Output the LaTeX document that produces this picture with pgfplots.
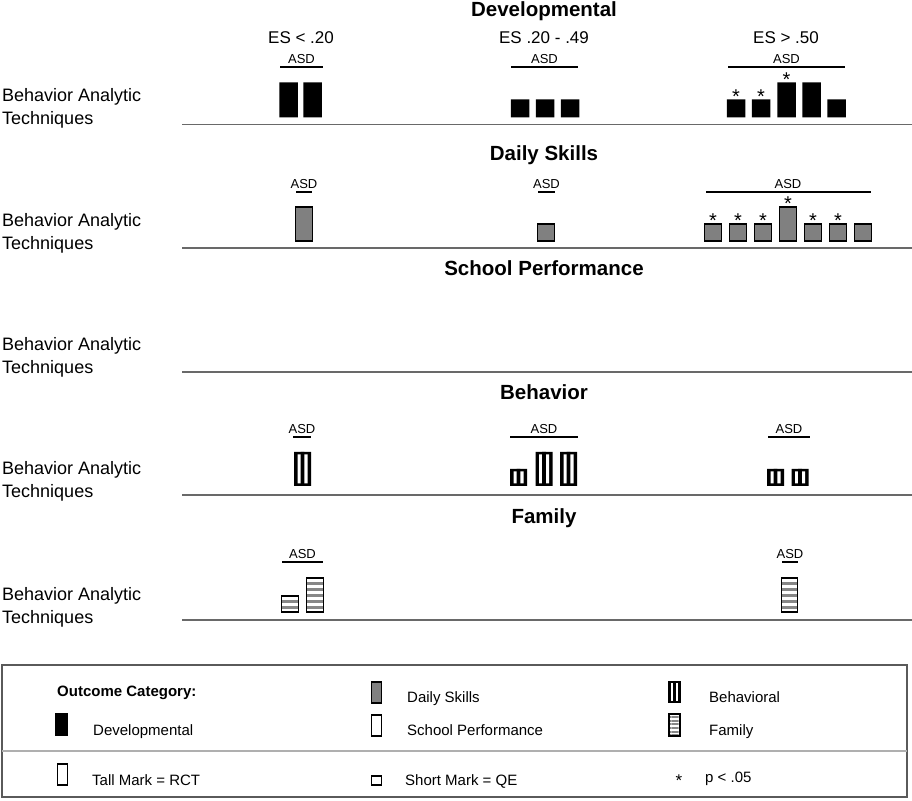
\documentclass[border=0pt]{standalone}
\usepackage{fontspec}
\setmainfont{Liberation Sans}
\usepackage{pgfplots}
\pgfplotsset{compat=1.18}
\usepackage{pgfplotstable}
\usetikzlibrary{patterns.meta}

\definecolor{dsgray}{RGB}{128,128,128}
\definecolor{famgray}{RGB}{135,135,135}
\definecolor{rulegray}{RGB}{105,105,105}
\definecolor{boxgray}{RGB}{90,90,90}
\definecolor{sepgray}{RGB}{175,175,175}

\newcommand{\fsz}[1]{\fontsize{#1}{#1}\selectfont}
% x, baseline y (from top), size, text
\newcommand{\txtL}[4]{\node[anchor=base west,inner sep=0pt,font=\fsz{#3}] at (#1,{800-(#2)}) {#4};}
\newcommand{\txtC}[4]{\node[anchor=base,inner sep=0pt,font=\fsz{#3}] at (#1,{800-(#2)}) {#4};}
\newcommand{\seg}[4]{\draw[#4] (#1,{800-(#3)}) -- (#2,{800-(#3)});}

\pgfplotsset{
  panel/.style={x=1pt,y=1pt,xmin=0,xmax=912,ymin=0,ymax=40,hide axis,clip=false,anchor=south west},
  col/.style={ybar,bar shift=0pt,bar width=#1},
  star/.style={only marks,mark=text,text mark={\fsz{20}*},yshift=3pt},
}

% bar centre x (px), height (35 = tall/RCT, 17 = short/QE)
\pgfplotstableread{
x h
288.5 35
312.5 35
520 18
545 18
570 18
736 18
761 18
786.5 35
811.5 35
836.5 18
}\devdata
\pgfplotstableread{
x h
736 18
761 18
786.5 35
}\devstars

\pgfplotstableread{
x h
304 34
546 17
713 17
738 17
763 17
788 34
813 17
838 17
863 17
}\dailydata
\pgfplotstableread{
x h
713 17
738 17
763 17
788 34
813 17
838 17
}\dailystars

\pgfplotstableread{
x h
302.5 34
518.5 17
544 34
568.5 34
775.5 17
800 17
}\behdata

\pgfplotstableread{
x h
290 16
315 34
789.5 34
}\famdata

\begin{document}
\begin{tikzpicture}[x=1pt,y=1pt]
\useasboundingbox (0,0) rectangle (912,800);

% ---------- titles ----------
\txtC{544}{17}{20.5}{\bfseries Developmental}
\txtC{544}{161}{20.5}{\bfseries Daily Skills}
\txtC{544}{276}{20.5}{\bfseries School Performance}
\txtC{544}{400}{20.5}{\bfseries Behavior}
\txtC{544}{524}{20.5}{\bfseries Family}

\txtC{301}{44}{17}{ES < .20}
\txtC{544}{44}{17}{ES .20 - .49}
\txtC{786}{44}{17}{ES > .50}

% ---------- row labels and rules ----------
\foreach \L/\B in {124.5/124.5,248/250,372/374,495/498,620/624}{
  \txtL{2}{\B-23}{18}{Behavior Analytic}
  \txtL{2}{\B}{18}{Techniques}
  \seg{182}{912}{\L}{rulegray,line width=1.4pt}
}

% ---------- ASD brackets ----------
\txtC{301.5}{63.5}{13}{ASD}\seg{280}{323}{67}{black,line width=1.4pt}
\txtC{544.5}{63.5}{13}{ASD}\seg{511}{578}{67}{black,line width=1.4pt}
\txtC{786.5}{63.5}{13}{ASD}\seg{728}{845}{67}{black,line width=1.4pt}

\txtC{304}{188.5}{13}{ASD}\seg{296}{312}{192}{black,line width=1.4pt}
\txtC{546.5}{188.5}{13}{ASD}\seg{538}{555}{192}{black,line width=1.4pt}
\txtC{788}{188.5}{13}{ASD}\seg{706}{871}{192}{black,line width=1.4pt}

\txtC{302}{433.5}{13}{ASD}\seg{293}{311}{437}{black,line width=1.4pt}
\txtC{544}{433.5}{13}{ASD}\seg{510}{578}{437}{black,line width=1.4pt}
\txtC{789}{433.5}{13}{ASD}\seg{768}{810}{437}{black,line width=1.4pt}

\txtC{302.5}{558.5}{13}{ASD}\seg{282}{323}{562}{black,line width=1.4pt}
\txtC{790}{558.5}{13}{ASD}\seg{782}{798}{562}{black,line width=1.4pt}

% ---------- Developmental ----------
\begin{axis}[panel,at={(0pt,682.5pt)}]
\addplot[col=18.5pt,fill=black,draw=none] table[x=x,y=h]{\devdata};
\addplot[star] table[x=x,y=h]{\devstars};
\end{axis}

% ---------- Daily Skills ----------
\begin{axis}[panel,at={(0pt,559pt)}]
\addplot[col=17pt,fill=dsgray,draw=black,line width=1.5pt] table[x=x,y=h]{\dailydata};
\addplot[star] table[x=x,y=h]{\dailystars};
\end{axis}

% ---------- Behavior ----------
\begin{axis}[panel,at={(0pt,314pt)}]
\addplot[col=17pt,fill=black,draw=none] table[x=x,y=h]{\behdata};
\addplot[col=10pt,fill=white,draw=none,yshift=2.5pt] table[x=x,y expr=\thisrow{h}-5]{\behdata};
\addplot[col=3.6pt,fill=black,draw=none] table[x=x,y=h]{\behdata};
\end{axis}

% ---------- Family ----------
\begin{axis}[panel,at={(0pt,188pt)}]
\addplot[col=16.5pt,draw=black,line width=1.4pt,
  pattern={Lines[angle=0,distance=6pt,line width=3pt]},pattern color=famgray]
  table[x=x,y=h]{\famdata};
\end{axis}

% ---------- legend ----------
\draw[boxgray,line width=1.3pt] (2,3) rectangle (907,135);
\draw[sepgray,line width=1.2pt] (2,49) -- (907,49);

\begin{axis}[panel,ymax=800,at={(0pt,0pt)}]
\addplot[col=10pt,fill=dsgray,draw=black,line width=1.3pt,yshift=97pt] coordinates {(376.5,21)};
\addplot[col=13pt,fill=black,draw=none,yshift=97pt] coordinates {(674.5,22)};
\addplot[col=7pt,fill=white,draw=none,yshift=99pt] coordinates {(674.5,18)};
\addplot[col=2.6pt,fill=black,draw=none,yshift=97pt] coordinates {(674.5,22)};
\addplot[col=13pt,fill=black,draw=none,yshift=64pt] coordinates {(61.5,23)};
\addplot[col=10pt,fill=white,draw=black,line width=1.3pt,yshift=64pt] coordinates {(376.5,21)};
\addplot[col=11pt,draw=black,line width=1.3pt,
  pattern={Lines[angle=0,distance=3.6pt,line width=1.8pt]},pattern color=famgray,yshift=64pt]
  coordinates {(674.5,22)};
\addplot[col=10pt,fill=white,draw=black,line width=1.3pt,yshift=15pt] coordinates {(62.5,21)};
\addplot[col=10pt,fill=white,draw=black,line width=1.3pt,yshift=15pt] coordinates {(376.5,9)};
\end{axis}

\txtL{57}{697}{15}{\bfseries Outcome Category:}
\txtL{93}{736}{15}{Developmental}
\txtL{407}{703}{15}{Daily Skills}
\txtL{407}{736}{15}{School Performance}
\txtL{709}{703}{15}{Behavioral}
\txtL{709}{736}{15}{Family}
\txtL{92}{785}{15}{Tall Mark = RCT}
\txtL{405}{785}{15}{Short Mark = QE}
\txtC{679}{786}{17}{*}
\txtL{705}{782}{15}{p < .05}

\end{tikzpicture}
\end{document}
